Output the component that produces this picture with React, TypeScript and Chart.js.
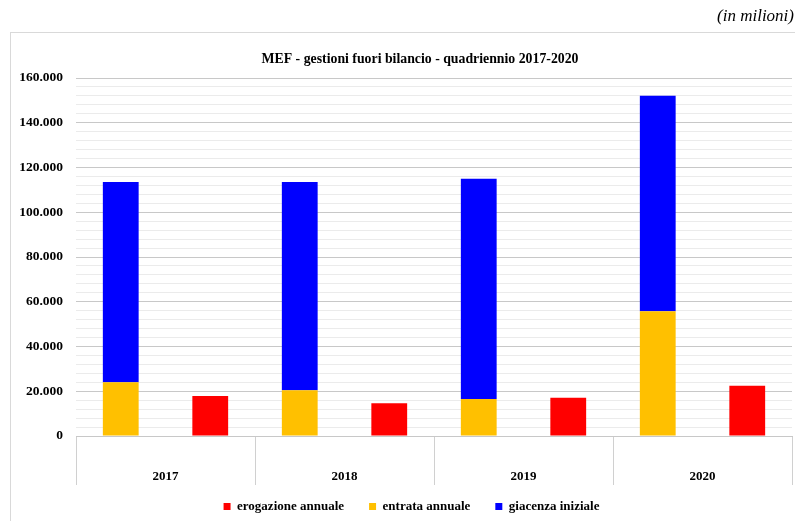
import React, { useEffect, useRef } from "react";
import { Chart, registerables } from "chart.js";

Chart.register(...registerables);

const categories = ["2017", "2018", "2019", "2020"];
const entrataAnnuale = [24000, 20500, 16500, 55800];
const giacenzaIniziale = [89500, 93000, 98500, 96300];
const erogazioneAnnuale = [17900, 14600, 17100, 22500];

const chartTitle = "MEF - gestioni fuori bilancio - quadriennio 2017-2020";
const unitNote = "(in milioni)";
const legendOrder = ["erogazione annuale", "entrata annuale", "giacenza iniziale"];

const SERIF = "'Liberation Serif', 'Times New Roman', serif";

function fmt(v: number): string {
  return Math.round(v).toString().replace(/\B(?=(\d{3})+(?!\d))/g, ".");
}

const decorPlugin = {
  id: "decor",
  afterLayout(chart: any) {
    const lg = chart.legend;
    if (lg) {
      lg.left += 44;
      lg.right += 0;
      lg.top += 3;
      lg.bottom += 3;
    }
  },
  beforeDraw(chart: any) {
    const ctx = chart.ctx;
    ctx.save();
    ctx.strokeStyle = "#d9d9d9";
    ctx.lineWidth = 1;
    ctx.strokeRect(10.5, 32.5, 900, 600);
    ctx.restore();
  },
  afterDraw(chart: any) {
    const ctx = chart.ctx;
    ctx.save();
    ctx.fillStyle = "#000";
    ctx.font = `bold 13.8px ${SERIF}`;
    ctx.textAlign = "center";
    ctx.textBaseline = "middle";
    ctx.fillText(chartTitle, 420, 59);
    ctx.font = `italic 17px ${SERIF}`;
    ctx.textAlign = "right";
    ctx.fillText(unitNote, 794, 17);
    ctx.restore();
  },
};

export default function App() {
  const ref = useRef<HTMLCanvasElement | null>(null);
  useEffect(() => {
    document.body.style.margin = "0";
    if (!ref.current) return;
    const chart = new Chart(ref.current, {
      type: "bar",
      data: {
        labels: categories,
        datasets: [
          { label: "entrata annuale", data: entrataAnnuale, backgroundColor: "#FFC000", stack: "a" },
          { label: "giacenza iniziale", data: giacenzaIniziale, backgroundColor: "#0000FF", stack: "a" },
          { label: "erogazione annuale", data: erogazioneAnnuale, backgroundColor: "#FF0000", stack: "b" },
        ],
      },
      options: {
        responsive: false,
        animation: false,
        categoryPercentage: 1.0,
        barPercentage: 0.4,
        layout: { padding: { left: 0, right: 3, top: 78, bottom: 1 } },
        plugins: {
          title: { display: false },
          tooltip: { enabled: false },
          legend: {
            position: "bottom",
            labels: {
              boxWidth: 7,
              boxHeight: 7,
              padding: 12,
              color: "#000",
              font: { family: SERIF, size: 13, weight: "bold" },
              generateLabels: (c: any) => {
                const base = Chart.defaults.plugins.legend.labels.generateLabels(c);
                return base.map((it: any) => ({ ...it, text: it.text + "    ", lineWidth: 0 }));
              },
              sort: (a: any, b: any) =>
                legendOrder.indexOf(a.text.trim()) - legendOrder.indexOf(b.text.trim()),
            },
          },
        },
        scales: {
          x: {
            stacked: true,
            offset: true,
            grid: {
              display: true,
              offset: true,
              drawOnChartArea: false,
              drawTicks: true,
              tickLength: 49,
              color: "#d0d0d0",
            },
            border: { display: true, color: "#c8c8c8" },
            ticks: {
              padding: -16,
              color: "#000",
              font: { family: SERIF, size: 13, weight: "bold" },
              maxRotation: 0,
            },
            afterFit: (s: any) => {
              s.height = 49;
            },
          },
          y: {
            stacked: true,
            min: 0,
            max: 160000,
            border: { display: false },
            grid: {
              drawTicks: false,
              color: (c: any) =>
                c.tick && c.tick.value % 20000 === 0 ? "#c8c8c8" : "#ebebeb",
            },
            ticks: {
              stepSize: 4000,
              autoSkip: false,
              padding: 13,
              color: "#000",
              font: { family: SERIF, size: 13.5, weight: "bold" },
              callback: (v: any) => (Number(v) % 20000 === 0 ? fmt(Number(v)) : ""),
            },
            afterFit: (s: any) => {
              s.width = 76;
            },
          },
        },
      },
      plugins: [decorPlugin],
    } as any);
    return () => chart.destroy();
  }, []);
  return (
    <div style={{ width: 795, height: 521, position: "relative" }}>
      <canvas ref={ref} width={795} height={521} style={{ display: "block" }} />
    </div>
  );
}
